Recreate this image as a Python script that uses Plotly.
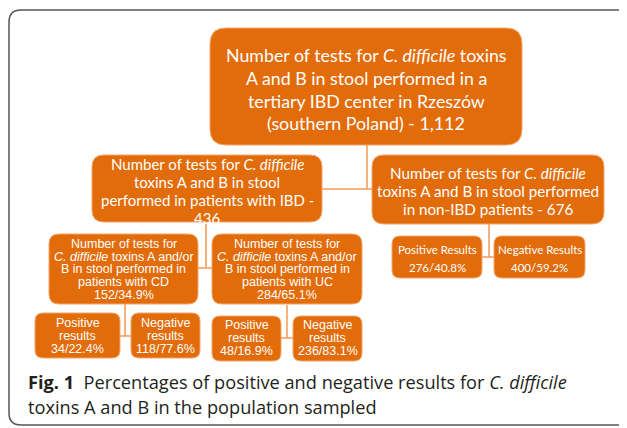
import plotly.graph_objects as go

# ---- data (counts and percentages) ----
total_tests = "1,112"
group_names = ["IBD", "non-IBD"]
group_tests = [436, 676]
ibd_sub_names = ["CD", "UC"]
ibd_sub_tests = [152, 284]
ibd_sub_pct = ["34.9", "65.1"]
cd_results = [34, 118]
cd_results_pct = ["22.4", "77.6"]
uc_results = [48, 236]
uc_results_pct = ["16.9", "83.1"]
nonibd_results = [276, 400]
nonibd_results_pct = ["40.8", "59.2"]
result_labels = ["Positive", "Negative"]

ORANGE = "#E36C0A"
LINK = "#F59A55"
W, H = 627, 428
OFF = 8  # page body margin compensation

fig = go.Figure()
shapes = []
annotations = []

def rrect(x0, y0, x1, y1, r=12):
    return (f"M {x0+r} {y0} L {x1-r} {y0} Q {x1} {y0} {x1} {y0+r} "
            f"L {x1} {y1-r} Q {x1} {y1} {x1-r} {y1} L {x0+r} {y1} "
            f"Q {x0} {y1} {x0} {y1-r} L {x0} {y0+r} Q {x0} {y0} {x0+r} {y0} Z")

def line(pts):
    d = "M " + " L ".join(f"{x} {y}" for x, y in pts)
    shapes.append(dict(type="path", path=d, xref="x", yref="y",
                       line=dict(color=LINK, width=1.5)))

def box(x0, y0, x1, y1, lines, ys, family, size, r=12):
    shapes.append(dict(type="path", path=rrect(x0, y0, x1, y1, r), xref="x", yref="y",
                       fillcolor=ORANGE, line=dict(color="#F2A56A", width=1)))
    cx = (x0 + x1) / 2
    for t, y in zip(lines, ys):
        annotations.append(dict(x=cx, y=y, xref="x", yref="y", text=t, showarrow=False,
                                xanchor="center", yanchor="middle", borderpad=0,
                                font=dict(family=family, size=size, color="white")))

CAL = "Lato"
ARI = "Liberation Sans"
cdiff = "<i>C. difficile</i>"

# frame
shapes.append(dict(type="path", xref="x", yref="y",
                   path="M 660 10 L 21 10 Q 9 10 9 22 L 9 413 Q 9 425 21 425 L 660 425",
                   line=dict(color="#555555", width=1.5)))

# connectors
line([(367, 145), (367, 189)])
line([(322, 189), (372, 189)])
line([(206, 222), (206, 268)])
line([(198, 268), (212, 268)])
line([(489, 224), (489, 257)])
line([(482, 257), (494, 257)])
line([(125, 303), (125, 336)])
line([(120, 336), (131, 336)])
line([(287, 305), (287, 338)])
line([(281, 338), (293, 338)])

# top box
box(210, 28, 522, 145,
    [f"Number of tests for {cdiff} toxins", "A and B in stool performed in a",
     "tertiary IBD center in Rzeszów", f"(southern Poland) - {total_tests}"],
    [55, 78, 101, 123], CAL, 17.8, r=16)

# IBD box
box(92, 155, 322, 222,
    [f"Number of tests for {cdiff}", "toxins A and B in stool",
     f"performed in patients with {group_names[0]} -", f"{group_tests[0]}"],
    [164, 182, 200, 218], CAL, 15)

# non-IBD box
box(372, 155, 604, 224,
    [f"Number of tests for {cdiff}", "toxins A and B in stool performed",
     f"in {group_names[1]} patients - {group_tests[1]}"],
    [173, 191, 209], CAL, 15.2)

# CD / UC boxes
for (x0, x1), name, n, p in zip([(49, 198), (212, 362)], ibd_sub_names, ibd_sub_tests, ibd_sub_pct):
    box(x0, 234, x1, 304,
        ["Number of tests for", f"{cdiff} toxins A and/or", "B in stool performed in",
         f"patients with {name}", f"{n}/{p}%"],
        [244, 256.5, 269, 281.5, 294.5], ARI, 12.5, r=10)

# non-IBD results
for (x0, x1), lab, n, p in zip([(392, 482), (494, 585)], result_labels, nonibd_results, nonibd_results_pct):
    box(x0, 236, x1, 278, [f"{lab} Results", f"{n}/{p}%"], [249, 267], CAL, 11.5, r=8)

# CD results
for (x0, x1), lab, n, p in zip([(35, 120), (131, 200)], result_labels, cd_results, cd_results_pct):
    box(x0, 313, x1, 358, [lab, "results", f"{n}/{p}%"], [323, 336, 349], ARI, 12.5, r=8)

# UC results
for (x0, x1), lab, n, p in zip([(212, 281), (293, 362)], result_labels, uc_results, uc_results_pct):
    box(x0, 316, x1, 361, [lab, "results", f"{n}/{p}%"], [325, 338, 351], ARI, 12.5, r=8)

# caption
annotations.append(dict(x=27, y=382, xref="x", yref="y", xanchor="left", yanchor="middle",
                        showarrow=False, borderpad=0,
                        text="<b>Fig. 1</b>  Percentages of positive and negative results for <i>C. difficile</i>",
                        font=dict(family="Open Sans", size=18.2, color="#231F20")))
annotations.append(dict(x=27, y=407, xref="x", yref="y", xanchor="left", yanchor="middle",
                        showarrow=False, borderpad=0,
                        text="toxins A and B in the population sampled",
                        font=dict(family="Open Sans", size=18.2, color="#231F20")))

fig.update_layout(
    width=W, height=H, margin=dict(l=0, r=0, t=0, b=0),
    paper_bgcolor="white", plot_bgcolor="white",
    xaxis=dict(range=[OFF, W + OFF], visible=False, fixedrange=True),
    yaxis=dict(range=[H + OFF, OFF], visible=False, fixedrange=True),
    shapes=shapes, annotations=annotations, showlegend=False,
)
fig.write_html("out.html")
